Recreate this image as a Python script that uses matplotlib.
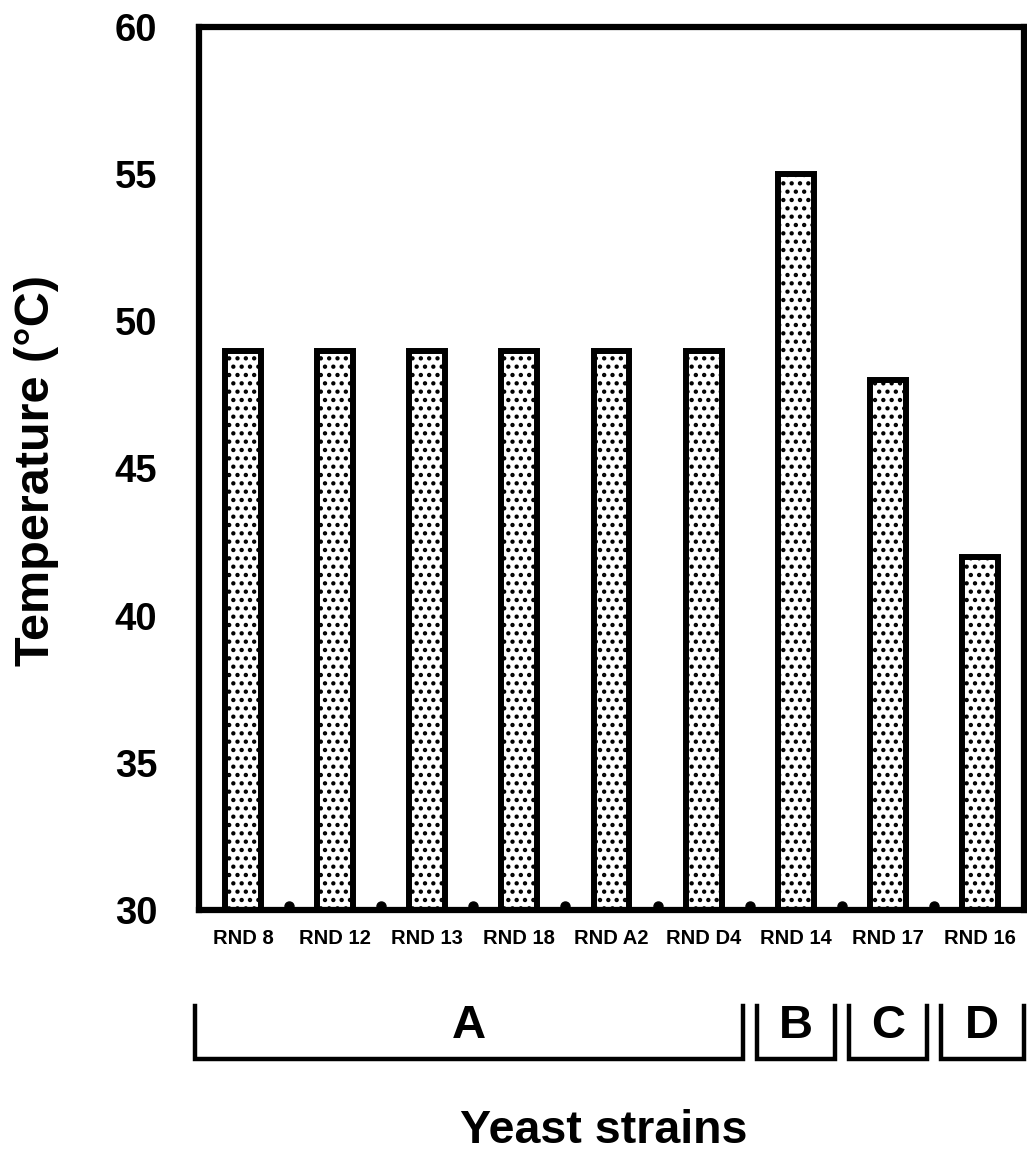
"""Heat tolerance of the yeast strains, grouped A-D."""

import matplotlib

matplotlib.use("Agg")
import matplotlib.pyplot as plt
import numpy as np

strains = ["RND 8", "RND 12", "RND 13", "RND 18", "RND A2", "RND D4",
           "RND 14", "RND 17", "RND 16"]
max_temp = [49, 49, 49, 49, 49, 49, 55, 48, 42]
groups = ["A", "B", "C", "D"]
group_first = [0, 6, 7, 8]
group_last = [5, 6, 7, 8]
y_ticks = [30, 35, 40, 45, 50, 55, 60]

INK = "#000000"

plt.rcParams.update({
    "font.family": ["Liberation Sans", "DejaVu Sans"],
    "font.weight": "bold",
    "hatch.linewidth": 1.9,
})

fig = plt.figure(figsize=(10.27, 11.51), dpi=100)
W, H = 1027, 1151
# axes box placed by pixel edges (spine centres)
ax = fig.add_axes([199 / W, 1 - 910 / H, (1024 - 199) / W, (910 - 27) / H])

x = np.arange(len(strains))
ax.bar(x, np.array(max_temp) - 30, bottom=30, width=0.39, color="white",
       edgecolor=INK, linewidth=4.3, hatch="..", zorder=2)

# small dots on the baseline between neighbouring bars
ax.plot(x[:-1] + 0.5, np.full(len(x) - 1, 30.12), "o", color=INK,
        markersize=6.5, clip_on=False, zorder=3)

ax.set_xlim(-0.48, 8.48)
ax.set_ylim(30, 60)
ax.set_yticks(y_ticks)
ax.set_yticklabels([str(t) for t in y_ticks], fontsize=27.5, fontweight="bold")
ax.set_xticks(x)
ax.set_xticklabels(strains, fontsize=14.5, fontweight="bold")
ax.tick_params(axis="y", length=0, pad=30)
ax.tick_params(axis="x", length=0, pad=14)
for side in ("top", "right", "left", "bottom"):
    ax.spines[side].set_linewidth(4.5)
    ax.spines[side].set_color(INK)

# group brackets under the strain labels
trans = ax.get_xaxis_transform()
y_top, y_bot, y_lab = -0.109, -0.169, -0.131
gap = 0.075
for g, (name, i0, i1) in enumerate(zip(groups, group_first, group_last)):
    left = i0 - 0.5 + (gap if g > 0 else -0.02)
    right = i1 + 0.5 - (gap if g < len(groups) - 1 else 0.02)
    ax.plot([left, left, right, right], [y_top, y_bot, y_bot, y_top],
            color=INK, lw=3.2, transform=trans, clip_on=False,
            solid_joinstyle="miter")
    ax.text((left + right) / 2, y_lab, name, transform=trans, ha="center",
            va="center", fontsize=34, fontweight="bold")

ax.text(0.49, -0.25, "Yeast strains", transform=ax.transAxes, ha="center",
        va="center", fontsize=33.5, fontweight="bold")
fig.text(37 / W, 1 - 470 / H, "Temperature (°C)", rotation=90, ha="center",
         va="center", fontsize=35, fontweight="bold")

fig.savefig("out.png", dpi=100, facecolor="white")
